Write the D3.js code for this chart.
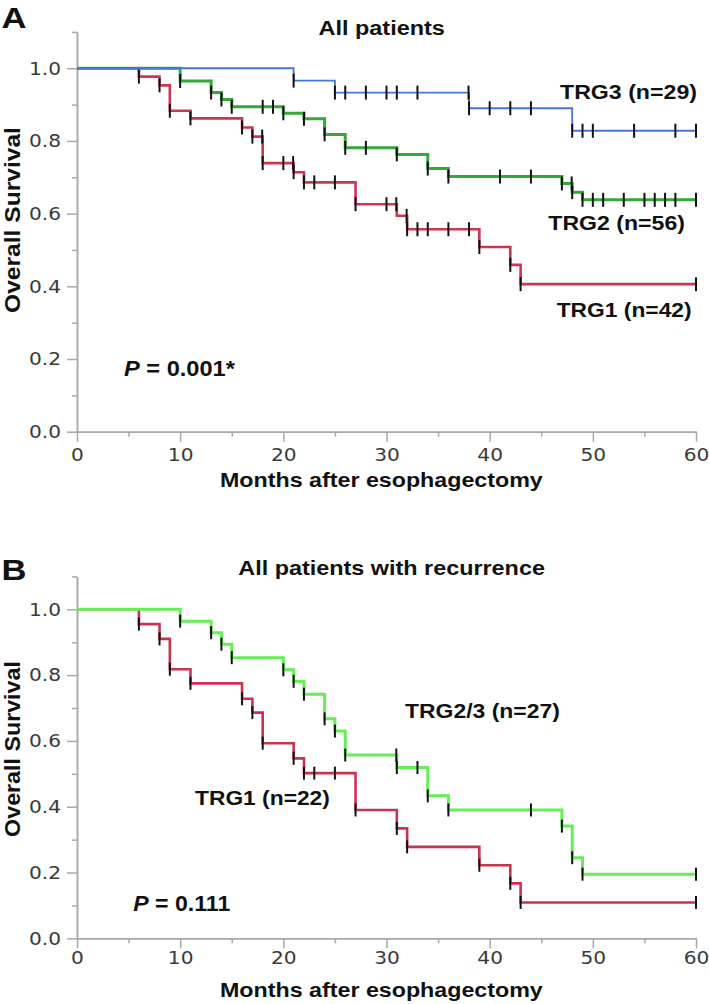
<!DOCTYPE html>
<html><head><meta charset="utf-8">
<script src="https://cdn.jsdelivr.net/npm/d3@7"></script>
<style>body{margin:0;background:#fff}svg{display:block}</style>
</head><body>
<svg id="c" width="709" height="1004"></svg>
<script>
// ---------- tick labels ----------
const monthTicks = [0, 10, 20, 30, 40, 50, 60];
const monthMinorTicks = [5, 15, 25, 35, 45, 55];
const survTicks = [0.0, 0.2, 0.4, 0.6, 0.8, 1.0];
const survMinorTicks = [0.1, 0.3, 0.5, 0.7, 0.9, 1.1];

// ---------- Panel A: All patients ----------
const aTRG3Times  = [0, 21, 25, 38, 48];
const aTRG3Surv   = [1, 0.966, 0.933, 0.890, 0.828];
const aTRG3Censor = [21, 25, 26, 28, 30, 31, 33, 37.95, 38, 40, 42, 44, 48, 49, 50, 54, 58, 60];

const aTRG2Times  = [0, 10, 13, 14, 15, 20, 22, 24, 26, 31, 34, 36, 47, 48, 49];
const aTRG2Surv   = [1, 0.965, 0.933, 0.914, 0.894, 0.876, 0.861, 0.818, 0.781, 0.763, 0.724, 0.702, 0.683, 0.659, 0.638];
const aTRG2Censor = [10, 13, 14, 15, 18, 19, 20, 22, 24, 26, 28, 31, 34, 36, 41, 44, 47, 47.95, 48, 49, 50, 51, 53, 55, 56, 57, 58, 60];

const aTRG1Times  = [0, 6, 8, 9, 11, 16, 17, 18, 21, 22, 27, 31, 32, 39, 42, 43];
const aTRG1Surv   = [1, 0.977, 0.953, 0.883, 0.862, 0.837, 0.812, 0.739, 0.714, 0.686, 0.626, 0.594, 0.557, 0.508, 0.459, 0.406];
const aTRG1Censor = [6, 8, 9, 11, 16, 17, 17.95, 18, 20, 20.95, 21, 22, 23, 25, 27, 30, 30.95, 31.95, 32, 33, 34, 36, 38, 39, 42, 43, 60];

// ---------- Panel B: All patients with recurrence ----------
const bTRG23Times  = [0, 10, 13, 14, 15, 20, 21, 22, 24, 25, 26, 31, 34, 36, 47, 48, 49];
const bTRG23Surv   = [1, 0.964, 0.929, 0.894, 0.853, 0.816, 0.781, 0.742, 0.667, 0.630, 0.557, 0.519, 0.433, 0.390, 0.341, 0.245, 0.195];
const bTRG23Censor = [10, 13, 14, 15, 20, 21, 22, 24, 25, 26, 30.95, 31, 33, 34, 36, 44, 47, 48, 49, 60];

const bTRG1Times  = [0, 6, 8, 9, 11, 16, 17, 18, 21, 22, 27, 31, 32, 39, 42, 43];
const bTRG1Surv   = [1, 0.955, 0.910, 0.818, 0.775, 0.728, 0.686, 0.593, 0.547, 0.502, 0.390, 0.334, 0.278, 0.222, 0.167, 0.109];
const bTRG1Censor = [6, 8, 9, 11, 16, 17, 18, 21, 22, 23, 25, 27, 31, 32, 39, 42, 43, 60];

// ---------- drawing ----------
const svg = d3.select('#c');
const BOLD = "'Liberation Sans', Arial, sans-serif";
const TICKF = "'DejaVu Sans', Verdana, sans-serif";
const AXIS_COLOR = '#a8a8a8';

// place text (possibly with italic parts) so that it spans a given width
function fitText(parts, opt) {
  const t = svg.append('text')
    .attr('font-family', BOLD).attr('font-weight', 'bold')
    .attr('font-size', opt.size).attr('fill', '#111')
    .attr('text-anchor', opt.anchor || 'start');
  parts.forEach(p => {
    t.append('tspan').text(p.text).attr('font-style', p.italic ? 'italic' : 'normal');
  });
  const w = t.node().getComputedTextLength();
  const sx = opt.width / w;
  if (opt.rotate) {
    t.attr('transform', `translate(${opt.x},${opt.y}) rotate(-90) scale(${sx},1)`);
  } else {
    t.attr('transform', `translate(${opt.x},${opt.y}) scale(${sx},1)`);
  }
  return t;
}

function stepValue(times, surv, t) {
  let v = surv[0];
  for (let i = 0; i < times.length; i++) if (times[i] <= t) v = surv[i];
  return v;
}

function drawPanel(p) {
  const x = d3.scaleLinear().domain([0, 60]).range([77, 696]);
  const y = d3.scaleLinear().domain([0, 1.1]).range([p.yBottom, p.yTop]);
  const g = svg.append('g');

  // y axis: minor then major
  const yMinor = g.append('g').attr('transform', `translate(${x(0)},0)`)
    .call(d3.axisLeft(y).tickValues(survMinorTicks).tickSize(5).tickSizeOuter(0).tickFormat(''));
  const yMajor = g.append('g').attr('transform', `translate(${x(0)},0)`)
    .call(d3.axisLeft(y).tickValues(survTicks).tickSize(10).tickSizeOuter(0).tickPadding(6).tickFormat(d3.format('.1f')));
  // x axis
  const xMinor = g.append('g').attr('transform', `translate(0,${y(0)})`)
    .call(d3.axisBottom(x).tickValues(monthMinorTicks).tickSize(5).tickSizeOuter(0).tickFormat(''));
  const xMajor = g.append('g').attr('transform', `translate(0,${y(0)})`)
    .call(d3.axisBottom(x).tickValues(monthTicks).tickSize(10).tickSizeOuter(0).tickPadding(p.xPad).tickFormat(d3.format('d')));

  [yMinor, yMajor, xMinor, xMajor].forEach(a => {
    a.selectAll('path,line').attr('stroke', AXIS_COLOR).attr('stroke-width', 1.5);
  });
  [yMajor, xMajor].forEach(a => {
    a.selectAll('text').attr('font-family', TICKF).attr('font-size', 18).attr('fill', '#3a3a3a');
  });
  // slight horizontal stretch of tick labels (as in the reference)
  yMajor.selectAll('text').each(function () {
    const el = d3.select(this);
    const xx = +el.attr('x');
    el.attr('x', 0).attr('transform', `translate(${xx},0) scale(1.12,1)`);
  });
  xMajor.selectAll('text').attr('transform', 'scale(1.12,1)');

  // curves
  const line = d3.line().curve(d3.curveStepAfter).x(d => x(d.t)).y(d => y(d.s));
  p.series.forEach(s => {
    const pts = s.times.map((t, i) => ({ t, s: s.surv[i] }));
    pts.push({ t: x.domain()[1], s: s.surv[s.surv.length - 1] });
    g.append('path').datum(pts).attr('d', line)
      .attr('fill', 'none').attr('stroke', s.color).attr('stroke-width', s.width)
      .attr('stroke-linejoin', 'miter');
  });
  // censor marks
  p.series.forEach(s => {
    g.append('g').selectAll('line').data(s.censor).join('line')
      .attr('x1', d => x(d)).attr('x2', d => x(d))
      .attr('y1', d => y(stepValue(s.times, s.surv, d)) - p.tick / 2)
      .attr('y2', d => y(stepValue(s.times, s.surv, d)) + p.tick / 2)
      .attr('stroke', '#111').attr('stroke-width', 2);
  });

  // texts
  fitText([{ text: p.letter }], { x: 1.5, y: p.letterY, size: 30, width: 25 });
  fitText([{ text: p.title }], { x: p.titleX, y: p.titleY, size: 21, width: p.titleW });
  fitText([{ text: 'Months after esophagectomy' }], { x: 220, y: p.xLabY, size: 21, width: 323 });
  fitText([{ text: 'Overall Survival' }], { x: 19.5, y: p.yLabC, size: 22, width: p.yLabW, rotate: true, anchor: 'middle' });
  fitText(p.pText, { x: p.pX, y: p.pY, size: 22, width: p.pW });
  p.labels.forEach(l => fitText([{ text: l.text }], { x: l.x, y: l.y, size: 21, width: l.w }));
}

drawPanel({
  yTop: 31.9, yBottom: 431.7, xPad: 6.5, tick: 14,
  letter: 'A', letterY: 28,
  title: 'All patients', titleX: 318.5, titleY: 35, titleW: 126.5,
  xLabY: 486.5, yLabC: 220, yLabW: 186,
  pText: [{ text: 'P', italic: true }, { text: ' = 0.001*' }], pX: 124, pY: 375.5, pW: 111,
  series: [
    { times: aTRG1Times, surv: aTRG1Surv, censor: aTRG1Censor, color: '#cf3452', width: 2.6 },
    { times: aTRG2Times, surv: aTRG2Surv, censor: aTRG2Censor, color: '#34a838', width: 3 },
    { times: aTRG3Times, surv: aTRG3Surv, censor: aTRG3Censor, color: '#4677d8', width: 1.8 }
  ],
  labels: [
    { text: 'TRG3 (n=29)', x: 560, y: 99.3, w: 137 },
    { text: 'TRG2 (n=56)', x: 548.3, y: 230, w: 136.7 },
    { text: 'TRG1 (n=42)', x: 556.7, y: 317.3, w: 135 }
  ]
});

drawPanel({
  yTop: 576.4, yBottom: 938.3, xPad: 3, tick: 13,
  letter: 'B', letterY: 580,
  title: 'All patients with recurrence', titleX: 238.3, titleY: 575, titleW: 306.7,
  xLabY: 997.3, yLabC: 749, yLabW: 176,
  pText: [{ text: 'P', italic: true }, { text: ' = 0.111' }], pX: 133.3, pY: 910.7, pW: 97,
  series: [
    { times: bTRG1Times, surv: bTRG1Surv, censor: bTRG1Censor, color: '#c8334f', width: 2.6 },
    { times: bTRG23Times, surv: bTRG23Surv, censor: bTRG23Censor, color: '#66ee55', width: 3 }
  ],
  labels: [
    { text: 'TRG2/3 (n=27)', x: 405, y: 718.3, w: 155 },
    { text: 'TRG1 (n=22)', x: 195, y: 805, w: 135 }
  ]
});
</script>
</body></html>
